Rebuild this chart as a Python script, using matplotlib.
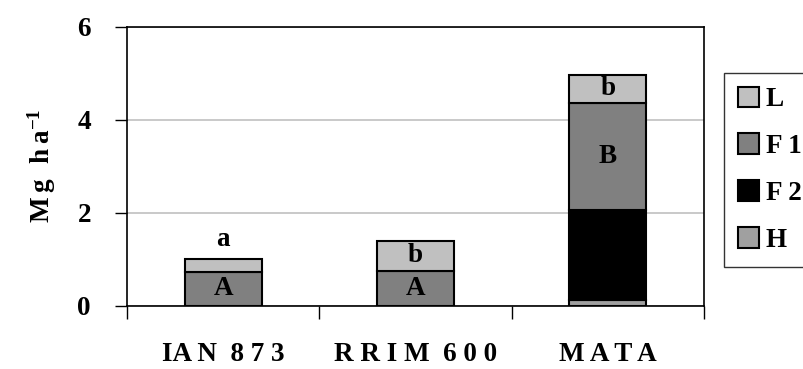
import matplotlib
matplotlib.use("Agg")
import matplotlib.pyplot as plt
from matplotlib.patches import Patch
import numpy as np

plt.rcParams['font.family'] = ['Liberation Serif', 'DejaVu Serif']
plt.rcParams['font.weight'] = 'bold'
plt.rcParams['mathtext.fontset'] = 'custom'
plt.rcParams['mathtext.rm'] = 'Liberation Serif:bold'
plt.rcParams['mathtext.bf'] = 'Liberation Serif:bold'

categories = ["IA N  8 7 3", "R R I M  6 0 0", "M A T A"]
H = [0.0, 0.0, 0.12]
F2 = [0.0, 0.0, 1.93]
F1 = [0.72, 0.75, 2.32]
L = [0.28, 0.64, 0.59]
upper_letters = ["a", "b", "b"]
lower_letters = ["A", "A", "B"]
yticks = [0, 2, 4, 6]

colors = {"L": "#C0C0C0", "F1": "#808080", "F2": "#000000", "H": "#A0A0A0"}

fig = plt.figure(figsize=(8.04, 3.69), dpi=100)
ax = fig.add_axes([127/804, 1-305.5/369, (704-127)/804, (305.5-27)/369])

x = np.arange(len(categories))
w = 0.4
bottom = np.zeros(len(categories))
kw = dict(width=w, edgecolor="black", linewidth=1.5, zorder=3)
for name, vals in [("H", H), ("F2", F2), ("F1", F1), ("L", L)]:
    ax.bar(x, vals, bottom=bottom, color=colors[name], **kw)
    bottom = bottom + np.array(vals)

fs = 19.5
base_f1 = np.array(H) + np.array(F2)
top_f1 = base_f1 + np.array(F1)
for i in range(len(categories)):
    ax.text(x[i], base_f1[i] + F1[i]/2, lower_letters[i], ha="center", va="center",
            fontsize=fs, fontweight="bold", zorder=4)
    if L[i] < 0.4:
        ypos = top_f1[i] + L[i] + 0.42
    else:
        ypos = top_f1[i] + L[i]/2
    ax.text(x[i], ypos, upper_letters[i], ha="center", va="center",
            fontsize=fs, fontweight="bold", zorder=4)

ax.set_xlim(-0.5, len(categories) - 0.5)
ax.set_ylim(0, 6)
ax.set_yticks(yticks)
ax.set_yticklabels([str(t) for t in yticks], fontsize=fs, fontweight="bold")
ax.tick_params(axis="y", direction="out", length=9, width=1, pad=17)
ax.set_xticks(x)
ax.set_xticklabels(categories, fontsize=fs, fontweight="bold")
ax.set_xticks(np.arange(-0.5, len(categories)), minor=True)
ax.tick_params(axis="x", which="major", length=0, pad=26)
ax.tick_params(axis="x", which="minor", direction="out", length=9, width=1)
ax.grid(axis="y", color="#C0C0C0", linewidth=1.2, zorder=0)
ax.set_axisbelow(True)
for s in ax.spines.values():
    s.set_linewidth(1.2)
    s.set_color("black")

ax.set_ylabel(r"$\mathbf{M\,g\;\;h\,a^{-1}}$", fontsize=fs, labelpad=14)

handles = [Patch(facecolor=colors[n], edgecolor="black", linewidth=1.5, label=n)
           for n in ["L", "F1", "F2", "H"]]
labels = ["L", "F 1", "F 2", "H"]
leg = fig.legend(handles, labels, loc="upper left", bbox_to_anchor=(724/804, 1-73/369),
                 fontsize=fs, frameon=True, fancybox=False, handlelength=0.8,
                 handleheight=0.8, handletextpad=0.25, labelspacing=0.78,
                 borderpad=0.5, borderaxespad=0)
leg.get_frame().set_edgecolor("black")
leg.get_frame().set_linewidth(1.0)
for t in leg.get_texts():
    t.set_fontweight("bold")

fig.savefig("out.png", dpi=100)
